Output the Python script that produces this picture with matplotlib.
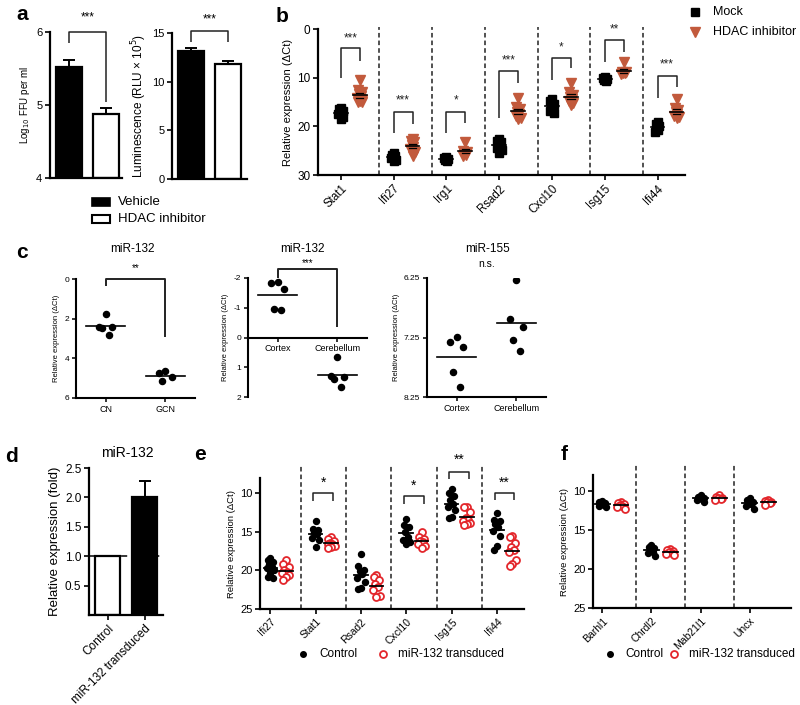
import numpy as np
import matplotlib
matplotlib.use('Agg')
import matplotlib.pyplot as plt
from matplotlib.patches import Rectangle
from matplotlib.lines import Line2D

plt.rcParams['font.family'] = ['Liberation Sans', 'DejaVu Sans']

# ---------------- data ----------------
a_groups = ['Vehicle', 'HDAC inhibitor']
a_ffu_mean = [5.52, 4.88]
a_ffu_sem = [0.10, 0.08]
a_lum_mean = [13.1, 11.8]
a_lum_sem = [0.40, 0.35]

b_genes = ['Stat1', 'Ifi27', 'Irg1', 'Rsad2', 'Cxcl10', 'Isg15', 'Ifi44']
b_mock = [
    [16.2, 16.5, 16.8, 17.0, 17.2, 17.5, 18.0, 18.4],
    [25.5, 25.8, 26.0, 26.2, 26.4, 26.6, 26.9, 27.2],
    [26.2, 26.5, 26.7, 26.9, 27.1],
    [22.6, 23.0, 23.3, 23.6, 24.0, 24.4, 24.8, 25.5],
    [14.3, 14.8, 15.5, 16.0, 16.5, 16.9, 17.3],
    [9.9, 10.1, 10.3, 10.5, 10.7],
    [19.2, 19.6, 20.0, 20.3, 20.7, 21.2],
]
b_hdac = [
    [10.4, 12.6, 12.9, 13.4, 13.8, 14.2, 14.5, 14.7, 14.9, 15.1],
    [22.6, 23.0, 23.3, 23.8, 24.2, 24.6, 25.3, 26.0],
    [23.2, 25.0, 25.3, 25.6, 25.8, 26.0],
    [14.2, 16.0, 16.4, 17.0, 17.4, 17.8, 18.2, 18.5],
    [11.0, 13.0, 13.5, 14.0, 14.4, 14.8, 15.2, 15.6],
    [6.8, 8.8, 8.9, 9.0, 9.1, 9.3],
    [14.4, 16.2, 16.6, 17.0, 17.4, 17.8, 18.0, 18.3],
]
b_stars = ['***', '***', '*', '***', '*', '**', '***']
# bracket: top, left-leg end, right-leg end, star y
b_brackets = [(3.9, 10.0, 6.6, 1.9), (17.0, 21.4, 19.5, 14.6), (17.0, 21.4, 19.3, 14.6),
              (8.6, 18.3, 11.1, 6.4), (6.0, 10.5, 8.0, 3.8), (2.3, 6.8, 4.7, 0.0),
              (9.7, 14.2, 12.0, 7.2)]

c1_groups = ['CN', 'GCN']
c1_vals = [[1.75, 2.4, 2.45, 2.4, 2.8], [4.65, 4.75, 4.95, 5.15]]
c1_line = [2.35, 4.9]
c2_groups = ['Cortex', 'Cerebellum']
c2_vals = [[-1.83, -1.87, -1.63, -0.93, -0.96], [0.66, 1.33, 1.40, 1.28, 1.66]]
c2_line = [-1.44, 1.27]
c3_groups = ['Cortex', 'Cerebellum']
c3_vals = [[7.24, 7.33, 7.41, 7.83, 8.08], [6.28, 6.94, 7.07, 7.30, 7.47]]
c3_line = [7.58, 7.00]

d_groups = ['Control', 'miR-132 transduced']
d_mean = [1.0, 2.0]
d_err = [0.0, 0.28]

e_genes = ['Ifi27', 'Stat1', 'Rsad2', 'Cxcl10', 'Isg15', 'Ifi44']
e_ctrl = [
    [18.4, 18.6, 18.9, 19.2, 19.5, 19.7, 19.9, 20.3, 20.8, 21.0],
    [13.6, 14.6, 14.8, 15.0, 15.3, 15.8, 16.0, 16.9],
    [17.8, 19.4, 19.9, 20.1, 20.5, 21.0, 21.5, 22.3, 22.4],
    [13.3, 14.1, 14.4, 15.0, 15.6, 16.0, 16.3, 16.5],
    [9.4, 10.0, 10.3, 10.8, 11.4, 11.7, 12.2, 13.0, 13.2],
    [12.5, 13.4, 13.6, 14.0, 14.4, 14.9, 15.5, 16.8, 17.4],
]
e_mir = [
    [18.7, 19.1, 19.5, 19.9, 20.2, 20.3, 20.6, 20.9, 21.3],
    [15.6, 15.9, 16.2, 16.4, 16.5, 16.6, 16.8, 17.0, 17.1],
    [20.6, 20.9, 21.3, 21.7, 22.2, 22.5, 23.3, 23.4],
    [15.0, 15.6, 15.9, 16.2, 16.3, 16.5, 16.8, 17.1],
    [11.8, 11.8, 12.4, 13.2, 13.4, 13.6, 13.8, 14.0, 14.1],
    [15.5, 15.7, 16.4, 17.0, 17.3, 17.6, 18.6, 19.2, 19.4],
]
e_stars = ['', '*', '', '*', '**', '**']
e_brackets = [None, (10.0, 11.0, 8.6), None, (10.4, 11.4, 9.0), (7.2, 8.1, 5.7), (9.9, 10.9, 8.6)]

f_genes = ['Barhl1', 'Chrdl2', 'Mab21l1', 'Uncx']
f_ctrl = [
    [11.3, 11.5, 11.6, 11.7, 11.8, 12.0, 12.1],
    [16.9, 17.2, 17.3, 17.5, 17.8, 18.0, 18.3],
    [10.6, 10.8, 10.9, 11.0, 11.1, 11.2, 11.4],
    [11.0, 11.2, 11.4, 11.5, 11.7, 12.0, 12.3],
]
f_mir = [
    [11.4, 11.6, 11.7, 11.8, 12.0, 12.1, 12.3],
    [17.5, 17.6, 17.7, 17.9, 18.0, 18.1, 18.2],
    [10.6, 10.8, 10.9, 11.0, 11.1, 11.2],
    [11.2, 11.3, 11.4, 11.5, 11.6, 11.8],
]

# ---------------- helpers ----------------
W, H = 800, 705
fig = plt.figure(figsize=(8, 7.05), dpi=100)
RED_B = '#C25A3C'
RED_E = '#E3262B'


def pax(l, t, r, b, lw=1.6):
    ax = fig.add_axes([l / W, 1 - b / H, (r - l) / W, (b - t) / H])
    for s in ['top', 'right']:
        ax.spines[s].set_visible(False)
    for s in ['left', 'bottom']:
        ax.spines[s].set_linewidth(lw)
    ax.tick_params(width=1.2, length=3.5, direction='out', pad=2)
    return ax


def ftext(x, y, s, **kw):
    fig.text(x / W, 1 - y / H, s, **kw)


def spread(vals, width):
    order = np.argsort(vals)
    pattern = [0, -1, 1, -0.5, 0.5, -1.3, 1.3]
    offs = np.zeros(len(vals))
    for k, idx in enumerate(order):
        offs[idx] = pattern[k % len(pattern)] * width
    return offs


def bracket(ax, x1, x2, top, y1, y2, lw=1.1, color='#222222'):
    ax.plot([x1, x1, x2, x2], [y1, top, top, y2], color=color, lw=lw, clip_on=False,
            solid_capstyle='butt')


# ---------------- panel a ----------------
ax = pax(50, 32, 122, 178)
xa = np.arange(2)
ax.bar(xa, np.array(a_ffu_mean) - 4, bottom=4, width=0.71, color=['black', 'white'],
       edgecolor='black', linewidth=1.6, zorder=2)
ax.errorbar(xa, a_ffu_mean, yerr=[[0, 0], a_ffu_sem], fmt='none', ecolor='black',
            elinewidth=1.4, capsize=4, capthick=1.4, zorder=1)
ax.set_xlim(-0.52, 1.45)
ax.set_ylim(4, 6)
ax.set_yticks([4, 5, 6])
ax.set_xticks([])
ax.tick_params(axis='y', labelsize=8)
ax.set_ylabel('Log$_{10}$ FFU per ml', fontsize=7, labelpad=3)
bracket(ax, 0, 1, 6.0, 5.85, 5.04)
ax.text(0.5, 6.12, '***', ha='center', va='bottom', fontsize=8.5)

ax = pax(172, 33, 247, 179)
ax.bar(xa, a_lum_mean, width=0.71, color=['black', 'white'], edgecolor='black',
       linewidth=1.6, zorder=2)
ax.errorbar(xa, a_lum_mean, yerr=[[0, 0], a_lum_sem], fmt='none', ecolor='black',
            elinewidth=1.4, capsize=4, capthick=1.4, zorder=1)
ax.set_xlim(-0.52, 1.53)
ax.set_ylim(0, 15)
ax.set_yticks([0, 5, 10, 15])
ax.set_xticks([])
ax.tick_params(axis='y', labelsize=8)
ax.set_ylabel('Luminescence (RLU \u00d7 10$^5$)', fontsize=8.5, labelpad=2)
bracket(ax, 0, 1, 15.2, 14.1, 14.1)
ax.text(0.5, 15.8, '***', ha='center', va='bottom', fontsize=8.5)

# legend a
fig.add_artist(Rectangle((92 / W, 1 - 206 / H), 18 / W, 8 / H, transform=fig.transFigure,
                         facecolor='black', edgecolor='black', lw=1.2))
fig.add_artist(Rectangle((92 / W, 1 - 223 / H), 18 / W, 8 / H, transform=fig.transFigure,
                         facecolor='white', edgecolor='black', lw=1.5))
ftext(118, 202, a_groups[0], fontsize=9.5, va='center')
ftext(118, 219, a_groups[1], fontsize=9.5, va='center')

# ---------------- panel b ----------------
ax = pax(318, 29, 685, 175)
OFF = 0.18
for i in range(len(b_genes)):
    for vals, off, mk, col, ms in [(b_mock[i], -OFF, 's', 'black', 6.2),
                                   (b_hdac[i], OFF, 'v', RED_B, 7)]:
        v = np.array(vals)
        xs = i + off + spread(v, 0.035)
        ax.plot(xs, v, ls='none', marker=mk, color=col, ms=ms, mec=col, zorder=3)
        m = v.mean()
        s = v.std(ddof=1) / np.sqrt(len(v))
        ax.plot([i + off - 0.13, i + off + 0.13], [m, m], color='black', lw=1.2, zorder=4)
        ax.plot([i + off - 0.07, i + off + 0.07], [m - s, m - s], color='black', lw=0.9, zorder=4)
        ax.plot([i + off - 0.07, i + off + 0.07], [m + s, m + s], color='black', lw=0.9, zorder=4)
    top, yl, yr, ys = b_brackets[i]
    bracket(ax, i - OFF, i + OFF, top, yl, yr)
    ax.text(i, ys, b_stars[i], ha='center', va='center', fontsize=8.5, color='#222222')
for i in range(len(b_genes) - 1):
    ax.plot([i + 0.55, i + 0.55], [30, -0.5], ls=(0, (3, 2)), color='#222222', lw=1.1,
            clip_on=False)
ax.set_xlim(-0.61, 6.34)
ax.set_ylim(30, 0)
ax.set_yticks([0, 10, 20, 30])
ax.set_xticks(np.arange(len(b_genes)) - OFF)
ax.set_xticklabels(b_genes, rotation=45, ha='right', rotation_mode='anchor', fontsize=8.3)
ax.tick_params(axis='y', labelsize=8.5)
ax.set_ylabel('Relative expression (\u0394Ct)', fontsize=8, labelpad=3)

fig.add_artist(Line2D([695 / W], [1 - 12 / H], marker='s', color='black', ms=5.5,
                      transform=fig.transFigure))
fig.add_artist(Line2D([695 / W], [1 - 32 / H], marker='v', color=RED_B, ms=6.5,
                      transform=fig.transFigure))
ftext(713, 12, 'Mock', fontsize=9, va='center')
ftext(713, 32, 'HDAC inhibitor', fontsize=9, va='center')

# ---------------- panel c ----------------
def cpanel(box, groups, vals, lines, ylim, yticks, yticklabels, title, title_x, zero_spine=False):
    ax = pax(*box, lw=1.5)
    for i in range(2):
        v = np.array(vals[i])
        xs = i + spread(v, 0.11)
        ax.plot(xs, v, ls='none', marker='o', color='black', ms=4.4, zorder=3)
        ax.plot([i - 0.33, i + 0.33], [lines[i], lines[i]], color='black', lw=1.2, zorder=2)
    ax.set_xlim(-0.5, 1.5)
    ax.set_ylim(*ylim)
    ax.set_yticks(yticks)
    ax.set_yticklabels(yticklabels)
    ax.set_xticks([0, 1])
    ax.set_xticklabels(groups)
    ax.tick_params(labelsize=6, length=3, width=1.1)
    ax.tick_params(axis='x', labelsize=6.5)
    ax.set_ylabel('Relative expression (\u0394Ct)', fontsize=5.5, labelpad=3)
    if zero_spine:
        ax.spines['bottom'].set_position(('data', 0))
    ftext(title_x, 249, title, fontsize=8.5, ha='center', va='center')
    return ax

ax = cpanel((76, 279, 195, 398), c1_groups, c1_vals, c1_line, (6, 0), [0, 2, 4, 6],
            ['0', '2', '4', '6'], 'miR-132', 132)
bracket(ax, 0, 1, 0.0, 0.35, 2.9, lw=1.4)
ax.text(0.5, -0.3, '**', ha='center', va='bottom', fontsize=7)

ax = cpanel((248, 278, 367, 397), c2_groups, c2_vals, c2_line, (2, -2), [-2, -1, 0, 1, 2],
            ['-2', '-1', '0', '1', '2'], 'miR-132', 302, zero_spine=True)
bracket(ax, 0, 1, -2.3, -2.0, -0.35, lw=1.4)
ax.text(0.5, -2.35, '***', ha='center', va='bottom', fontsize=7)

ax = cpanel((427, 278, 546, 397), c3_groups, c3_vals, c3_line, (8.25, 6.25), [6.25, 7.25, 8.25],
            ['6.25', '7.25', '8.25'], 'miR-155', 488)
ax.text(0.5, 6.1, 'n.s.', ha='center', va='bottom', fontsize=7.5)

# ---------------- panel d ----------------
ax = pax(89, 468, 163, 615)
xd = np.arange(2)
ax.axhline(1.0, ls=(0, (4, 3)), color='black', lw=1.1, zorder=1, clip_on=False)
ax.bar(xd, d_mean, width=0.68, color=['white', 'black'], edgecolor='black', linewidth=1.6,
       zorder=2)
ax.errorbar(xd[1:], d_mean[1:], yerr=[[0], d_err[1:]], fmt='none', ecolor='black',
            elinewidth=1.4, capsize=4, capthick=1.4, zorder=1)
ax.set_xlim(-0.5, 1.5)
ax.set_ylim(0, 2.5)
ax.set_yticks([0.5, 1.0, 1.5, 2.0, 2.5])
ax.set_yticklabels(['0.5', '1.0', '1.5', '2.0', '2.5'])
ax.set_xticks(xd)
ax.set_xticklabels(d_groups, rotation=45, ha='right', rotation_mode='anchor', fontsize=8.5)
ax.tick_params(axis='y', labelsize=8.5)
ax.set_ylabel('Relative expression (fold)', fontsize=9.5, labelpad=3)
ftext(127, 453, 'miR-132', fontsize=10, ha='center', va='center')

# ---------------- panel e / f ----------------
def efpanel(box, genes, ctrl, mir, xlim, off, sep_top):
    ax = pax(*box)
    for i in range(len(genes)):
        v = np.array(ctrl[i])
        ax.plot(i - off + spread(v, 0.06), v, ls='none', marker='o', color='black', ms=4.3,
                zorder=3)
        ax.plot([i - off - 0.15, i - off + 0.15], [v.mean()] * 2, color='black', lw=1.3, zorder=4)
        v = np.array(mir[i])
        ax.plot(i + off + spread(v, 0.06), v, ls='none', marker='o', mfc='white', mec=RED_E,
                mew=1.3, ms=5, zorder=3)
        ax.plot([i + off - 0.15, i + off + 0.15], [v.mean()] * 2, color='black', lw=1.3, zorder=4)
    for i in range(len(genes) - 1):
        ax.plot([i + 0.5, i + 0.5], [25, sep_top], ls=(0, (3, 2)), color='#222222', lw=1.1,
                clip_on=False)
    ax.set_xlim(*xlim)
    ax.set_ylim(25, 8)
    ax.set_yticks([10, 15, 20, 25])
    ax.set_xticks(np.arange(len(genes)) - off)
    ax.set_xticklabels(genes, rotation=45, ha='right', rotation_mode='anchor', fontsize=7.5)
    ax.tick_params(axis='y', labelsize=8)
    ax.set_ylabel('Relative expression (\u0394Ct)', fontsize=6.8, labelpad=3)
    return ax

ax = efpanel((260, 478, 524, 609), e_genes, e_ctrl, e_mir, (-0.4, 5.43), 0.17, 6.5)
for i, br in enumerate(e_brackets):
    if br is None:
        continue
    top, leg, ys = br
    bracket(ax, i - 0.22, i + 0.22, top, leg, leg)
    ax.text(i, ys, e_stars[i], ha='center', va='center', fontsize=10)

ax = efpanel((593, 475, 791, 608), f_genes, f_ctrl, f_mir, (-0.38, 3.65), 0.19, 6.6)

for (xd_, xr_, xt1, xt2) in [(303, 383, 319, 398), (610, 674, 625, 689)]:
    fig.add_artist(Line2D([xd_ / W], [1 - 654 / H], marker='o', color='black', ms=4,
                          transform=fig.transFigure))
    fig.add_artist(Line2D([xr_ / W], [1 - 654 / H], marker='o', mfc='white', mec=RED_E,
                          mew=1.3, ms=5, transform=fig.transFigure))
    ftext(xt1, 654, 'Control', fontsize=8.5, va='center')
    ftext(xt2, 654, 'miR-132 transduced', fontsize=8.5, va='center')

# ---------------- panel letters ----------------
for lbl, x, y in [('a', 22, 14), ('b', 282, 17), ('c', 22, 252), ('d', 12, 456),
                  ('e', 200, 454), ('f', 564, 454)]:
    ftext(x, y, lbl, fontsize=15, fontweight='bold', ha='center', va='center')

fig.savefig('out.png', dpi=100)
